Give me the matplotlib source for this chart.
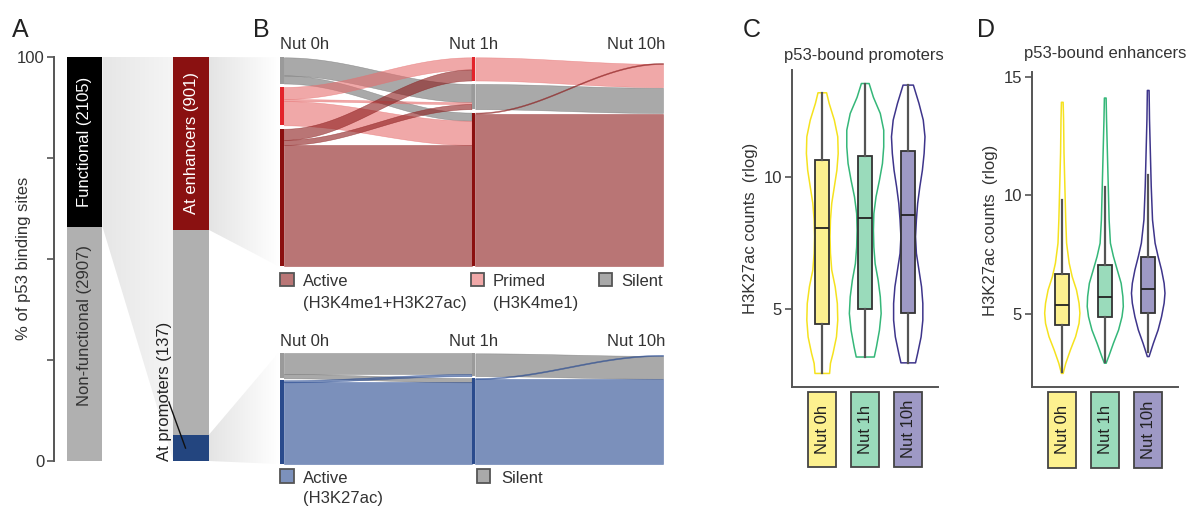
import numpy as np
import matplotlib
matplotlib.use('Agg')
import matplotlib.pyplot as plt
from matplotlib.patches import Rectangle, Polygon
from matplotlib.colors import LinearSegmentedColormap, to_rgba, to_rgb
from matplotlib.transforms import blended_transform_factory

W, H = 1192, 511

# A: p53 binding sites
site_labels = ['Non-functional (2907)', 'Functional (2105)']
site_counts = [2907, 2105]
site_colors = ['#b0b0b0', '#000000']
func_labels = ['At promoters (137)', '', 'At enhancers (901)']
func_counts = [137, 1067, 901]
func_colors = ['#23457f', '#b0b0b0', '#8a1111']

# B: chromatin state of p53-bound sites over time (% of sites)
times = ['Nut 0h', 'Nut 1h', 'Nut 10h']
enh_states = [['Silent', 'Primed', 'Active'],
              ['Primed', 'Silent', 'Active'],
              ['Primed', 'Silent', 'Active']]
enh_flows_01 = [('Silent', 'Silent', 9), ('Silent', 'Active', 4),
                ('Primed', 'Primed', 6), ('Primed', 'Silent', 1), ('Primed', 'Active', 12),
                ('Active', 'Primed', 5.5), ('Active', 'Silent', 2.5), ('Active', 'Active', 60)]
enh_flows_110 = [('Primed', 'Primed', 11.5), ('Silent', 'Silent', 12.5),
                 ('Active', 'Primed', 0.5), ('Active', 'Active', 75.5)]
enh_lode_in = [['Silent', 'Primed', 'Active'], ['Active', 'Silent', 'Primed']]

prom_states = [['Silent', 'Active'], ['Silent', 'Active'], ['Silent', 'Active']]
prom_flows_01 = [('Silent', 'Silent', 19), ('Silent', 'Active', 4),
                 ('Active', 'Silent', 2), ('Active', 'Active', 75)]
prom_flows_110 = [('Silent', 'Silent', 21), ('Active', 'Silent', 1), ('Active', 'Active', 78)]
prom_lode_in = [['Silent', 'Active'], ['Active', 'Silent']]

# C: H3K27ac at p53-bound promoters (violin outline: level, half width)
prom_vy = [[2.58, 2.96, 3.34, 3.96, 4.59, 5.22, 5.85, 6.48, 7.11, 7.74, 8.37, 9.0, 9.62, 10.25, 10.88, 11.51, 12.14, 12.77, 13.17],
           [3.2, 3.58, 4.21, 4.84, 5.47, 6.1, 6.72, 7.35, 7.98, 8.61, 9.24, 9.87, 10.5, 11.13, 11.76, 12.39, 13.0, 13.52],
           [2.98, 3.34, 3.96, 4.59, 5.22, 5.85, 6.48, 7.11, 7.74, 8.37, 9.0, 9.62, 10.25, 10.88, 11.51, 12.14, 12.77, 13.46]]
prom_vw = [[0.17, 0.19, 0.25, 0.33, 0.36, 0.35, 0.30, 0.22, 0.19, 0.18, 0.19, 0.22, 0.28, 0.34, 0.37, 0.36, 0.28, 0.16, 0.10],
           [0.21, 0.26, 0.33, 0.37, 0.35, 0.30, 0.23, 0.20, 0.19, 0.20, 0.25, 0.33, 0.40, 0.43, 0.43, 0.35, 0.19, 0.09],
           [0.17, 0.22, 0.30, 0.34, 0.34, 0.31, 0.25, 0.19, 0.17, 0.19, 0.22, 0.27, 0.33, 0.37, 0.39, 0.35, 0.25, 0.12]]
prom_q1 = [4.44, 5.0, 4.87]
prom_med = [8.05, 8.43, 8.55]
prom_q3 = [10.63, 10.78, 10.97]
prom_lo = [2.58, 3.2, 2.98]
prom_hi = [13.17, 13.52, 13.46]

# D: H3K27ac at p53-bound enhancers
enh_vy = [[2.49, 2.91, 3.48, 4.04, 4.6, 5.03, 5.45, 6.01, 6.57, 7.14, 7.98, 8.96, 10.37, 11.78, 13.19, 13.92],
          [2.92, 3.2, 3.76, 4.32, 4.88, 5.31, 5.73, 6.29, 6.85, 7.42, 7.98, 8.96, 10.37, 11.78, 13.19, 14.1],
          [3.2, 3.76, 4.32, 4.88, 5.45, 5.87, 6.29, 6.85, 7.42, 7.98, 8.96, 10.37, 11.78, 13.19, 14.42]]
enh_vw = [[0.02, 0.08, 0.19, 0.31, 0.39, 0.41, 0.39, 0.33, 0.23, 0.16, 0.10, 0.08, 0.06, 0.04, 0.03, 0.02],
          [0.02, 0.08, 0.19, 0.31, 0.39, 0.42, 0.41, 0.37, 0.28, 0.19, 0.12, 0.09, 0.07, 0.05, 0.03, 0.02],
          [0.02, 0.12, 0.23, 0.31, 0.37, 0.39, 0.37, 0.31, 0.23, 0.16, 0.10, 0.07, 0.05, 0.03, 0.02]]
enh_q1 = [4.54, 4.86, 5.05]
enh_med = [5.38, 5.72, 6.04]
enh_q3 = [6.68, 7.07, 7.38]
enh_lo = [2.55, 2.97, 3.41]
enh_hi = [9.81, 10.35, 10.84]

enh_fcol = {'Active': '#8b1a1a', 'Primed': '#e66e6e', 'Silent': '#707070'}
enh_ncol = {'Active': '#8b1010', 'Primed': '#e3242b', 'Silent': '#9a9a9a'}
prom_fcol = {'Active': '#24478f', 'Silent': '#707070'}
prom_ncol = {'Active': '#2a4b8d', 'Silent': '#9a9a9a'}
vio_edge = ['#f5e21e', '#35b779', '#3e358b']
vio_fill = ['#fdf18f', '#9adbbb', '#9e99c5']

plt.rcParams['font.family'] = ['Liberation Sans', 'DejaVu Sans']
plt.rcParams['font.size'] = 12
plt.rcParams['text.color'] = '#333333'

fig = plt.figure(figsize=(W / 100, H / 100), dpi=100)


def px_axes(x0, y0, x1, y1, **kw):
    ax = fig.add_axes([x0 / W, 1 - y1 / H, (x1 - x0) / W, (y1 - y0) / H], **kw)
    ax.patch.set_alpha(0)
    return ax


ov = px_axes(0, 0, W, H, zorder=-1)
ov.axis('off')


def to_ov(ax, x, y):
    d = ax.transData.transform((x, y))
    return d[0], H - d[1]


def style_left(ax):
    for s in ['top', 'right', 'bottom']:
        ax.spines[s].set_visible(False)
    ax.spines['left'].set_color('#555555')
    ax.spines['left'].set_linewidth(1.4)
    ax.tick_params(axis='y', length=5, width=1.2, color='#555555', labelcolor='#333333', pad=2, labelsize=12)
    ax.set_xticks([])


# ---------- A ----------
axA = px_axes(54, 57, 210, 461)
pct1 = np.array(site_counts) / sum(site_counts) * 100
pct2 = np.array(func_counts) / sum(func_counts) * 100
bot = 0
for p, c in zip(pct1, site_colors):
    axA.bar(0, p, bottom=bot, width=1, color=c, lw=0)
    bot += p
bot = 0
for p, c in zip(pct2, func_colors):
    axA.bar(3, p, bottom=bot, width=1, color=c, lw=0)
    bot += p
axA.set_xlim(-0.865, 3.53)
axA.set_ylim(0, 100)
style_left(axA)
axA.set_yticks([0, 25, 50, 75, 100])
axA.set_yticklabels(['0', '', '', '', '100'])
axA.text(0, 33.5, site_labels[0], rotation=90, ha='center', va='center', color='#333333')
axA.text(0, pct1[0] + pct1[1] / 2, site_labels[1], rotation=90, ha='center', va='center', color='white')
axA.text(3, 100 - pct2[2] / 2, func_labels[2], rotation=90, ha='center', va='center', color='white')
axA.text(2.46, 0, func_labels[0], rotation=90, ha='right', va='bottom', color='#222222')
axA.plot([2.37, 2.84], [14.6, 3.2], color='#111111', lw=1)
fig.text(24 / W, 1 - 258 / H, '% of p53 binding sites', rotation=90, ha='center', va='center')


# ---------- B ----------
def alluvial(ax, states, segments, lode_in, fcol, ncol, gaps, ymax, w=0.02):
    n = len(states)
    sizes = [dict() for _ in range(n)]
    for i, seg in enumerate(segments):
        for a, b, v in seg:
            if i == 0:
                sizes[0][a] = sizes[0].get(a, 0) + v
            sizes[i + 1][b] = sizes[i + 1].get(b, 0) + v
    tops = []
    for i in range(n):
        y, t = 0, {}
        for k in reversed(states[i]):
            t[k] = y + sizes[i][k]
            y += sizes[i][k] + gaps[i]
        tops.append(t)
    tt = np.linspace(0, 1, 80)
    ss = (1 - np.cos(np.pi * tt)) / 2
    for i, seg in enumerate(segments):
        src, dst = dict(tops[i]), dict(tops[i + 1])
        y0, y1 = {}, {}
        for f in sorted(seg, key=lambda f: (states[i].index(f[0]), states[i + 1].index(f[1]))):
            y0[f[:2]] = src[f[0]]
            src[f[0]] -= f[2]
        for f in sorted(seg, key=lambda f: (states[i + 1].index(f[1]), lode_in[i].index(f[0]))):
            y1[f[:2]] = dst[f[1]]
            dst[f[1]] -= f[2]
        x = i + w + (1 - w) * tt
        for a, b, v in seg:
            top = y0[(a, b)] + (y1[(a, b)] - y0[(a, b)]) * ss
            ax.fill_between(x, top - v, top, facecolor=to_rgba(fcol[a], 0.6),
                            edgecolor=to_rgba(fcol[a], 0.6), lw=0.4)
    for i in range(n - 1):
        for k in states[i]:
            ax.bar(i, sizes[i][k], bottom=tops[i][k] - sizes[i][k], width=w,
                   align='edge', color=ncol[k], lw=0)
    ax.set_xlim(0, n - 1)
    ax.set_ylim(0, ymax)
    ax.axis('off')


axBt = px_axes(280, 57.3, 663, 266)
alluvial(axBt, enh_states, [enh_flows_01, enh_flows_110], enh_lode_in,
         enh_fcol, enh_ncol, [1.7, 1.7, 0.3], 103.4)
axBb = px_axes(280, 353.3, 663, 464)
alluvial(axBb, prom_states, [prom_flows_01, prom_flows_110], prom_lode_in,
         prom_fcol, prom_ncol, [1.7, 1.7, 0.3], 101.7)

for ax, yb in [(axBt, 1.038), (axBb, 1.066)]:
    tr = blended_transform_factory(ax.transData, ax.transAxes)
    ax.text(0, yb, times[0], transform=tr, ha='left', va='baseline')
    ax.text(1.01, yb, times[1], transform=tr, ha='center', va='baseline')
    ax.text(2.01, yb, times[2], transform=tr, ha='right', va='baseline')


def blend_white(c, a=0.6):
    r = np.array(to_rgb(c))
    return tuple(1 - a * (1 - r))


def legend_item(x, y, color, lines, tx, baselines):
    ov.add_patch(Rectangle((x, y), 13.5, 13.5, facecolor=color, edgecolor='#555555', lw=1.3))
    for line, b in zip(lines, baselines):
        ov.text(tx, b, line, ha='left', va='baseline', color='#333333')


legend_item(280, 272.7, blend_white(enh_fcol['Active']), ['Active', '(H3K4me1+H3K27ac)'], 303, [286, 308])
legend_item(470.5, 272.7, blend_white(enh_fcol['Primed']), ['Primed', '(H3K4me1)'], 493, [286, 308])
legend_item(598.5, 272.7, blend_white(enh_fcol['Silent']), ['Silent'], 621.5, [286])
legend_item(280, 469.5, blend_white(prom_fcol['Active']), ['Active', '(H3K27ac)'], 303, [483.3, 503.5])
legend_item(476.7, 469.5, blend_white(prom_fcol['Silent']), ['Silent'], 501.7, [483.3])


# ---------- C, D ----------
def violin_panel(ax, vy, vw, q1, med, q3, lo, hi, ylim, yticks, lab_y):
    for i in range(3):
        y = np.array(vy[i])
        hw = np.array(vw[i])
        ax.fill_betweenx(y, i + 1 - hw, i + 1 + hw, facecolor='none',
                         edgecolor=vio_edge[i], lw=1.1, zorder=1)
    stats = [dict(med=med[i], q1=q1[i], q3=q3[i], whislo=lo[i], whishi=hi[i], fliers=[])
             for i in range(3)]
    bx = ax.bxp(stats, positions=[1, 2, 3], widths=0.33, patch_artist=True,
                showcaps=False, showfliers=False, manage_ticks=False,
                boxprops=dict(edgecolor='#333333', linewidth=1.3),
                medianprops=dict(color='#222222', linewidth=1.3),
                whiskerprops=dict(color='#555555', linewidth=1.6))
    for patch, c in zip(bx['boxes'], vio_fill):
        patch.set_facecolor(c)
    ax.set_xlim(0.288, 3.70)
    ax.set_ylim(*ylim)
    style_left(ax)
    ax.spines['bottom'].set_visible(True)
    ax.spines['bottom'].set_color('#555555')
    ax.spines['bottom'].set_linewidth(1.4)
    ax.set_yticks(yticks)
    tr = blended_transform_factory(ax.transData, ax.transAxes)
    for i, lab in enumerate(times):
        ax.add_patch(Rectangle((i + 1 - 0.33, lab_y[1]), 0.66, lab_y[0] - lab_y[1], transform=tr,
                               facecolor=vio_fill[i], edgecolor='#444444', lw=1.3, clip_on=False))
        ax.text(i + 1, (lab_y[0] + lab_y[1]) / 2, lab, transform=tr, rotation=90,
                ha='center', va='center', color='#222222')


axC = px_axes(791.7, 70, 938.3, 386.7)
violin_panel(axC, prom_vy, prom_vw, prom_q1, prom_med, prom_q3, prom_lo, prom_hi,
             (2.08, 14.03), [5, 10], (-0.0158, -0.2526))
axD = px_axes(1031.7, 71.7, 1178.3, 386.7)
violin_panel(axD, enh_vy, enh_vw, enh_q1, enh_med, enh_q3, enh_lo, enh_hi,
             (1.93, 15.21), [5, 10, 15], (-0.0159, -0.258))

fig.text(864 / W, 1 - 60 / H, 'p53-bound promoters', ha='center', va='baseline')
fig.text(1105 / W, 1 - 58 / H, 'p53-bound enhancers', ha='center', va='baseline')
fig.text(750 / W, 1 - 228 / H, 'H3K27ac counts  (rlog)', rotation=90, ha='center', va='center')
fig.text(990.5 / W, 1 - 230 / H, 'H3K27ac counts  (rlog)', rotation=90, ha='center', va='center')

for lab, x in [('A', 12), ('B', 253), ('C', 743), ('D', 977)]:
    fig.text(x / W, 1 - 36.7 / H, lab, fontsize=18, color='#222222', va='baseline', ha='left')


# ---------- gradient connectors ----------
def grad_poly(pts, c0, c1):
    poly = Polygon(pts, closed=True, facecolor='none', edgecolor='none')
    ov.add_patch(poly)
    xs = [p[0] for p in pts]
    ys = [p[1] for p in pts]
    cmap = LinearSegmentedColormap.from_list('g', [c0, c1])
    im = ov.imshow(np.linspace(0, 1, 256)[None, :], extent=[min(xs), max(xs), max(ys), min(ys)],
                   cmap=cmap, aspect='auto', interpolation='bilinear')
    im.set_clip_path(poly)


top_func = pct1[0]
grad_poly([to_ov(axA, 0.5, 100), to_ov(axA, 0.5, top_func), to_ov(axA, 2.5, 0), to_ov(axA, 2.5, 100)],
          '#e6e6e6', '#f5f5f5')
enh_low = 100 - pct2[2]
grad_poly([to_ov(axA, 3.5, 100), to_ov(axA, 3.5, enh_low), to_ov(axBt, -0.01, 0), to_ov(axBt, -0.01, 103.4)],
          '#e4e4e4', '#ffffff')
grad_poly([to_ov(axA, 3.5, pct2[0]), to_ov(axA, 3.5, 0), to_ov(axBb, -0.01, 0), to_ov(axBb, -0.01, 101.7)],
          '#e4e4e4', '#ffffff')
ov.set_xlim(0, W)
ov.set_ylim(H, 0)

fig.savefig('out.png', dpi=100)
